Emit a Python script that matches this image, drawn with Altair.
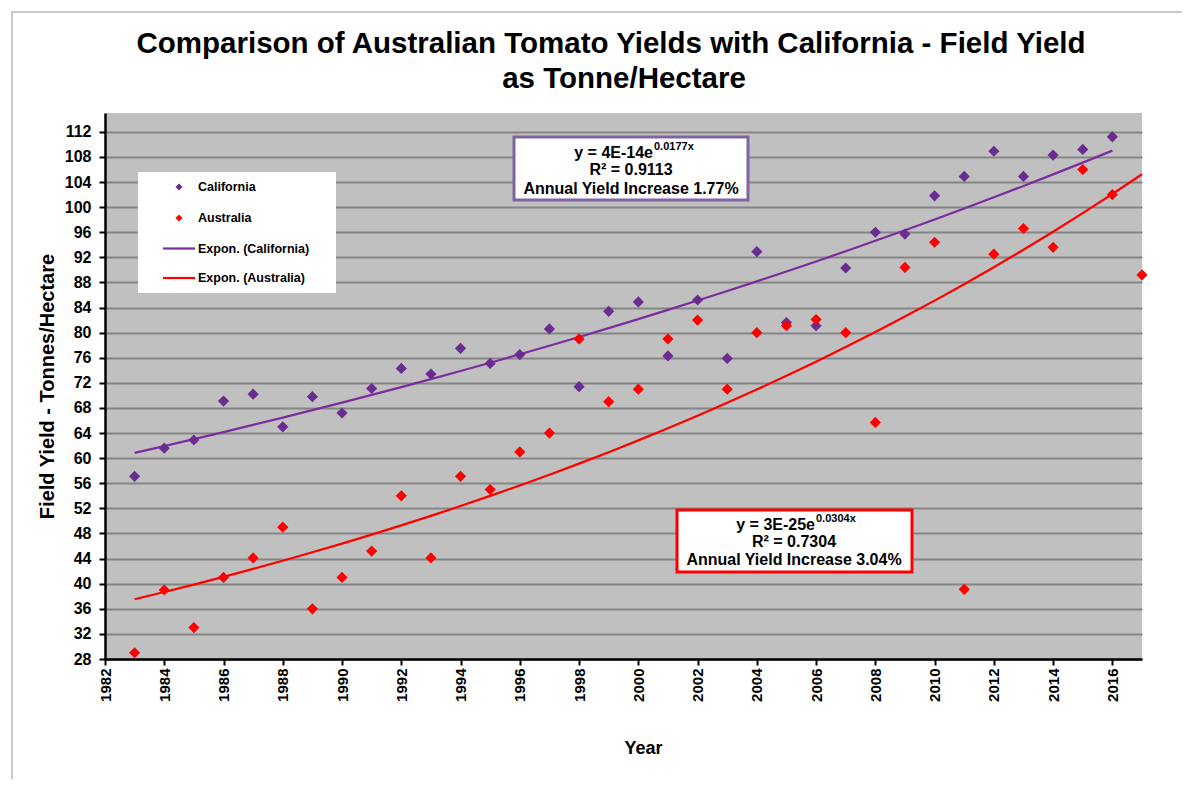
import altair as alt
import pandas as pd

# ---------------- data ----------------
years_california = list(range(1983, 2017))
california = [57.1, 61.6, 62.9, 69.1, 70.2, 65.0, 69.8, 67.2, 71.1, 74.3,
              73.4, 77.5, 75.1, 76.5, 80.6, 71.4, 83.4, 84.9, 76.3, 85.2,
              75.9, 92.9, 81.6, 81.1, 90.3, 96.0, 95.7, 101.8, 104.9, 108.9,
              104.9, 108.3, 109.2, 111.2]
years_australia = list(range(1983, 2018))
australia = [29.0, 39.0, 33.0, 41.0, 44.1, 49.0, 36.0, 41.0, 45.2, 54.0,
             44.1, 57.1, 55.0, 61.0, 64.0, 79.0, 69.0, 71.0, 79.0, 82.0,
             71.0, 80.0, 81.1, 82.1, 80.0, 65.7, 90.4, 94.4, 39.1, 92.5,
             96.6, 93.6, 106.0, 102.0, 89.2]

series_names = ["California", "Australia", "Expon. (California)", "Expon. (Australia)"]
series_colors = ["#6A2C91", "#FF0000", "#7B2C9E", "#FF0000"]

title_lines = ["Comparison of Australian Tomato Yields with California - Field Yield",
               "as Tonne/Hectare"]
x_ticks = list(range(1982, 2017, 2))
y_ticks = list(range(28, 113, 4))
ca_eq = ["y = 4E-14e", "0.0177x", "R² = 0.9113", "Annual Yield Increase 1.77%"]
au_eq = ["y = 3E-25e", "0.0304x", "R² = 0.7304", "Annual Yield Increase 3.04%"]

df = pd.DataFrame({
    "year": years_california + years_australia,
    "value": california + australia,
    "series": ["California"] * len(california) + ["Australia"] * len(australia),
})
dummy = pd.DataFrame({"k": [0]})

# ---------------- layout ----------------
FONT = "Liberation Sans"
X0, Y0 = 105, 113          # plot origin on the page
W, H = 1037, 546


def px(x):
    return x - X0


def py(y):
    return y - Y0


color_scale = alt.Scale(domain=series_names, range=series_colors)
x_scale = alt.Scale(domain=[1982, 2017], nice=False, zero=False)
y_scale = alt.Scale(domain=[28, 115], nice=False, zero=False)

x_axis = alt.Axis(
    values=x_ticks, format="d", title="Year", labelAngle=270, orient="bottom",
    labelFont=FONT, labelFontSize=15, labelFontWeight="bold", labelColor="black",
    labelPadding=3, labelOverlap=False, labelFlush=False,
    domainColor="black", domainWidth=2.5, tickColor="black", tickWidth=2, tickSize=6,
    grid=False, titleFont=FONT, titleFontSize=18, titleFontWeight="bold",
    titleColor="black", titleX=px(643), titleY=89, titleAlign="center",
    titleBaseline="middle",
)
y_axis = alt.Axis(
    values=y_ticks, title="Field Yield - Tonnes/Hectare", orient="left",
    labelFont=FONT, labelFontSize=16, labelFontWeight="bold", labelColor="black",
    labelPadding=8, labelOverlap=False, labelFlush=False,
    domainColor="black", domainWidth=2.5, tickColor="black", tickWidth=2, tickSize=6,
    grid=True, gridColor="#858585", gridWidth=2,
    titleFont=FONT, titleFontSize=20, titleFontWeight="bold", titleColor="black",
    titleX=px(47), titleY=py(386), titleAngle=270, titleAlign="center",
    titleBaseline="middle",
)

# ---------------- marks ----------------
points = alt.Chart(df).mark_point(
    filled=True, size=125, opacity=1, strokeWidth=0, shape="diamond"
).encode(
    x=alt.X("year:Q", scale=x_scale, axis=x_axis),
    y=alt.Y("value:Q", scale=y_scale, axis=y_axis),
    color=alt.Color("series:N", scale=color_scale, legend=None),
)

# Excel-style exponential trend: least squares of ln(y) on year, per series
trend = alt.Chart(df).transform_calculate(
    ly="log(datum.value)", xc="datum.year - 2000"
).transform_calculate(
    xly="datum.xc * datum.ly", xx="datum.xc * datum.xc"
).transform_joinaggregate(
    mx="mean(xc)", my="mean(ly)", mxy="mean(xly)", mxx="mean(xx)", groupby=["series"]
).transform_calculate(
    b="(datum.mxy - datum.mx * datum.my) / (datum.mxx - datum.mx * datum.mx)"
).transform_calculate(
    value="exp(datum.my + datum.b * (datum.xc - datum.mx))",
    trend="'Expon. (' + datum.series + ')'"
).mark_line(strokeWidth=2.2).encode(
    x=alt.X("year:Q", scale=x_scale, axis=x_axis),
    y=alt.Y("value:Q", scale=y_scale, axis=y_axis),
    color=alt.Color("trend:N", scale=color_scale, legend=None),
)


def box(x1, y1, x2, y2, stroke, sw, fill="white", fill_opacity=1):
    return alt.Chart(dummy).mark_rect(
        fill=fill, fillOpacity=fill_opacity, stroke=stroke, strokeWidth=sw
    ).encode(x=alt.value(px(x1)), x2=alt.value(px(x2)),
             y=alt.value(py(y1)), y2=alt.value(py(y2)))


def label(text, x, y, size, align="center", baseline="middle"):
    return alt.Chart(dummy).mark_text(
        text=text, font=FONT, fontSize=size, fontWeight="bold", align=align,
        baseline=baseline, color="black"
    ).encode(x=alt.value(px(x)), y=alt.value(py(y)))


def legend_diamond(color, y):
    return alt.Chart(dummy).mark_point(
        shape="diamond", filled=True, size=50, opacity=1, strokeWidth=0, color=color
    ).encode(x=alt.value(px(179)), y=alt.value(py(y)))


def legend_line(color, y):
    return alt.Chart(dummy).mark_rule(color=color, strokeWidth=2.2).encode(
        x=alt.value(px(163)), x2=alt.value(px(195)), y=alt.value(py(y)))


frame = box(12, 12, 1230, 830, "#C8C8C8", 2, fill="white", fill_opacity=0)
legend_box = box(138, 172, 336, 293, "white", 0)
ca_box = box(514, 137, 748, 200, "#8064A2", 3)
au_box = box(677, 510, 912, 572, "#FF0000", 3)

legend_rows = [187, 218, 248.5, 278]
legend_marks = [
    legend_diamond(series_colors[0], legend_rows[0]),
    legend_diamond(series_colors[1], legend_rows[1]),
    legend_line(series_colors[2], legend_rows[2]),
    legend_line(series_colors[3], legend_rows[3]),
] + [label(series_names[i], 198, legend_rows[i], 12.5, align="left") for i in range(4)]

texts = [
    label(title_lines[0], 611, 53, 29.5, baseline="alphabetic"),
    label(title_lines[1], 624, 87.5, 29.5, baseline="alphabetic"),
    label(ca_eq[0], 653, 153, 16, align="right"),
    label(ca_eq[1], 654, 147, 11, align="left"),
    label(ca_eq[2], 631, 170, 16),
    label(ca_eq[3], 631, 188.5, 16),
    label(au_eq[0], 815, 525, 16, align="right"),
    label(au_eq[1], 816, 519, 11, align="left"),
    label(au_eq[2], 794, 542, 16),
    label(au_eq[3], 794, 560, 16),
]

chart = alt.layer(
    frame, trend, points, legend_box, *legend_marks, ca_box, au_box, *texts
).properties(
    width=W, height=H,
    padding={"left": X0 - 8, "top": Y0 - 8, "right": 40, "bottom": 120},
    autosize=alt.AutoSizeParams(type="none"),
    background="white",
).configure_view(
    fill="#C0C0C0", strokeWidth=0
)

chart.save("out.html", embed_options={"renderer": "svg", "actions": False})
